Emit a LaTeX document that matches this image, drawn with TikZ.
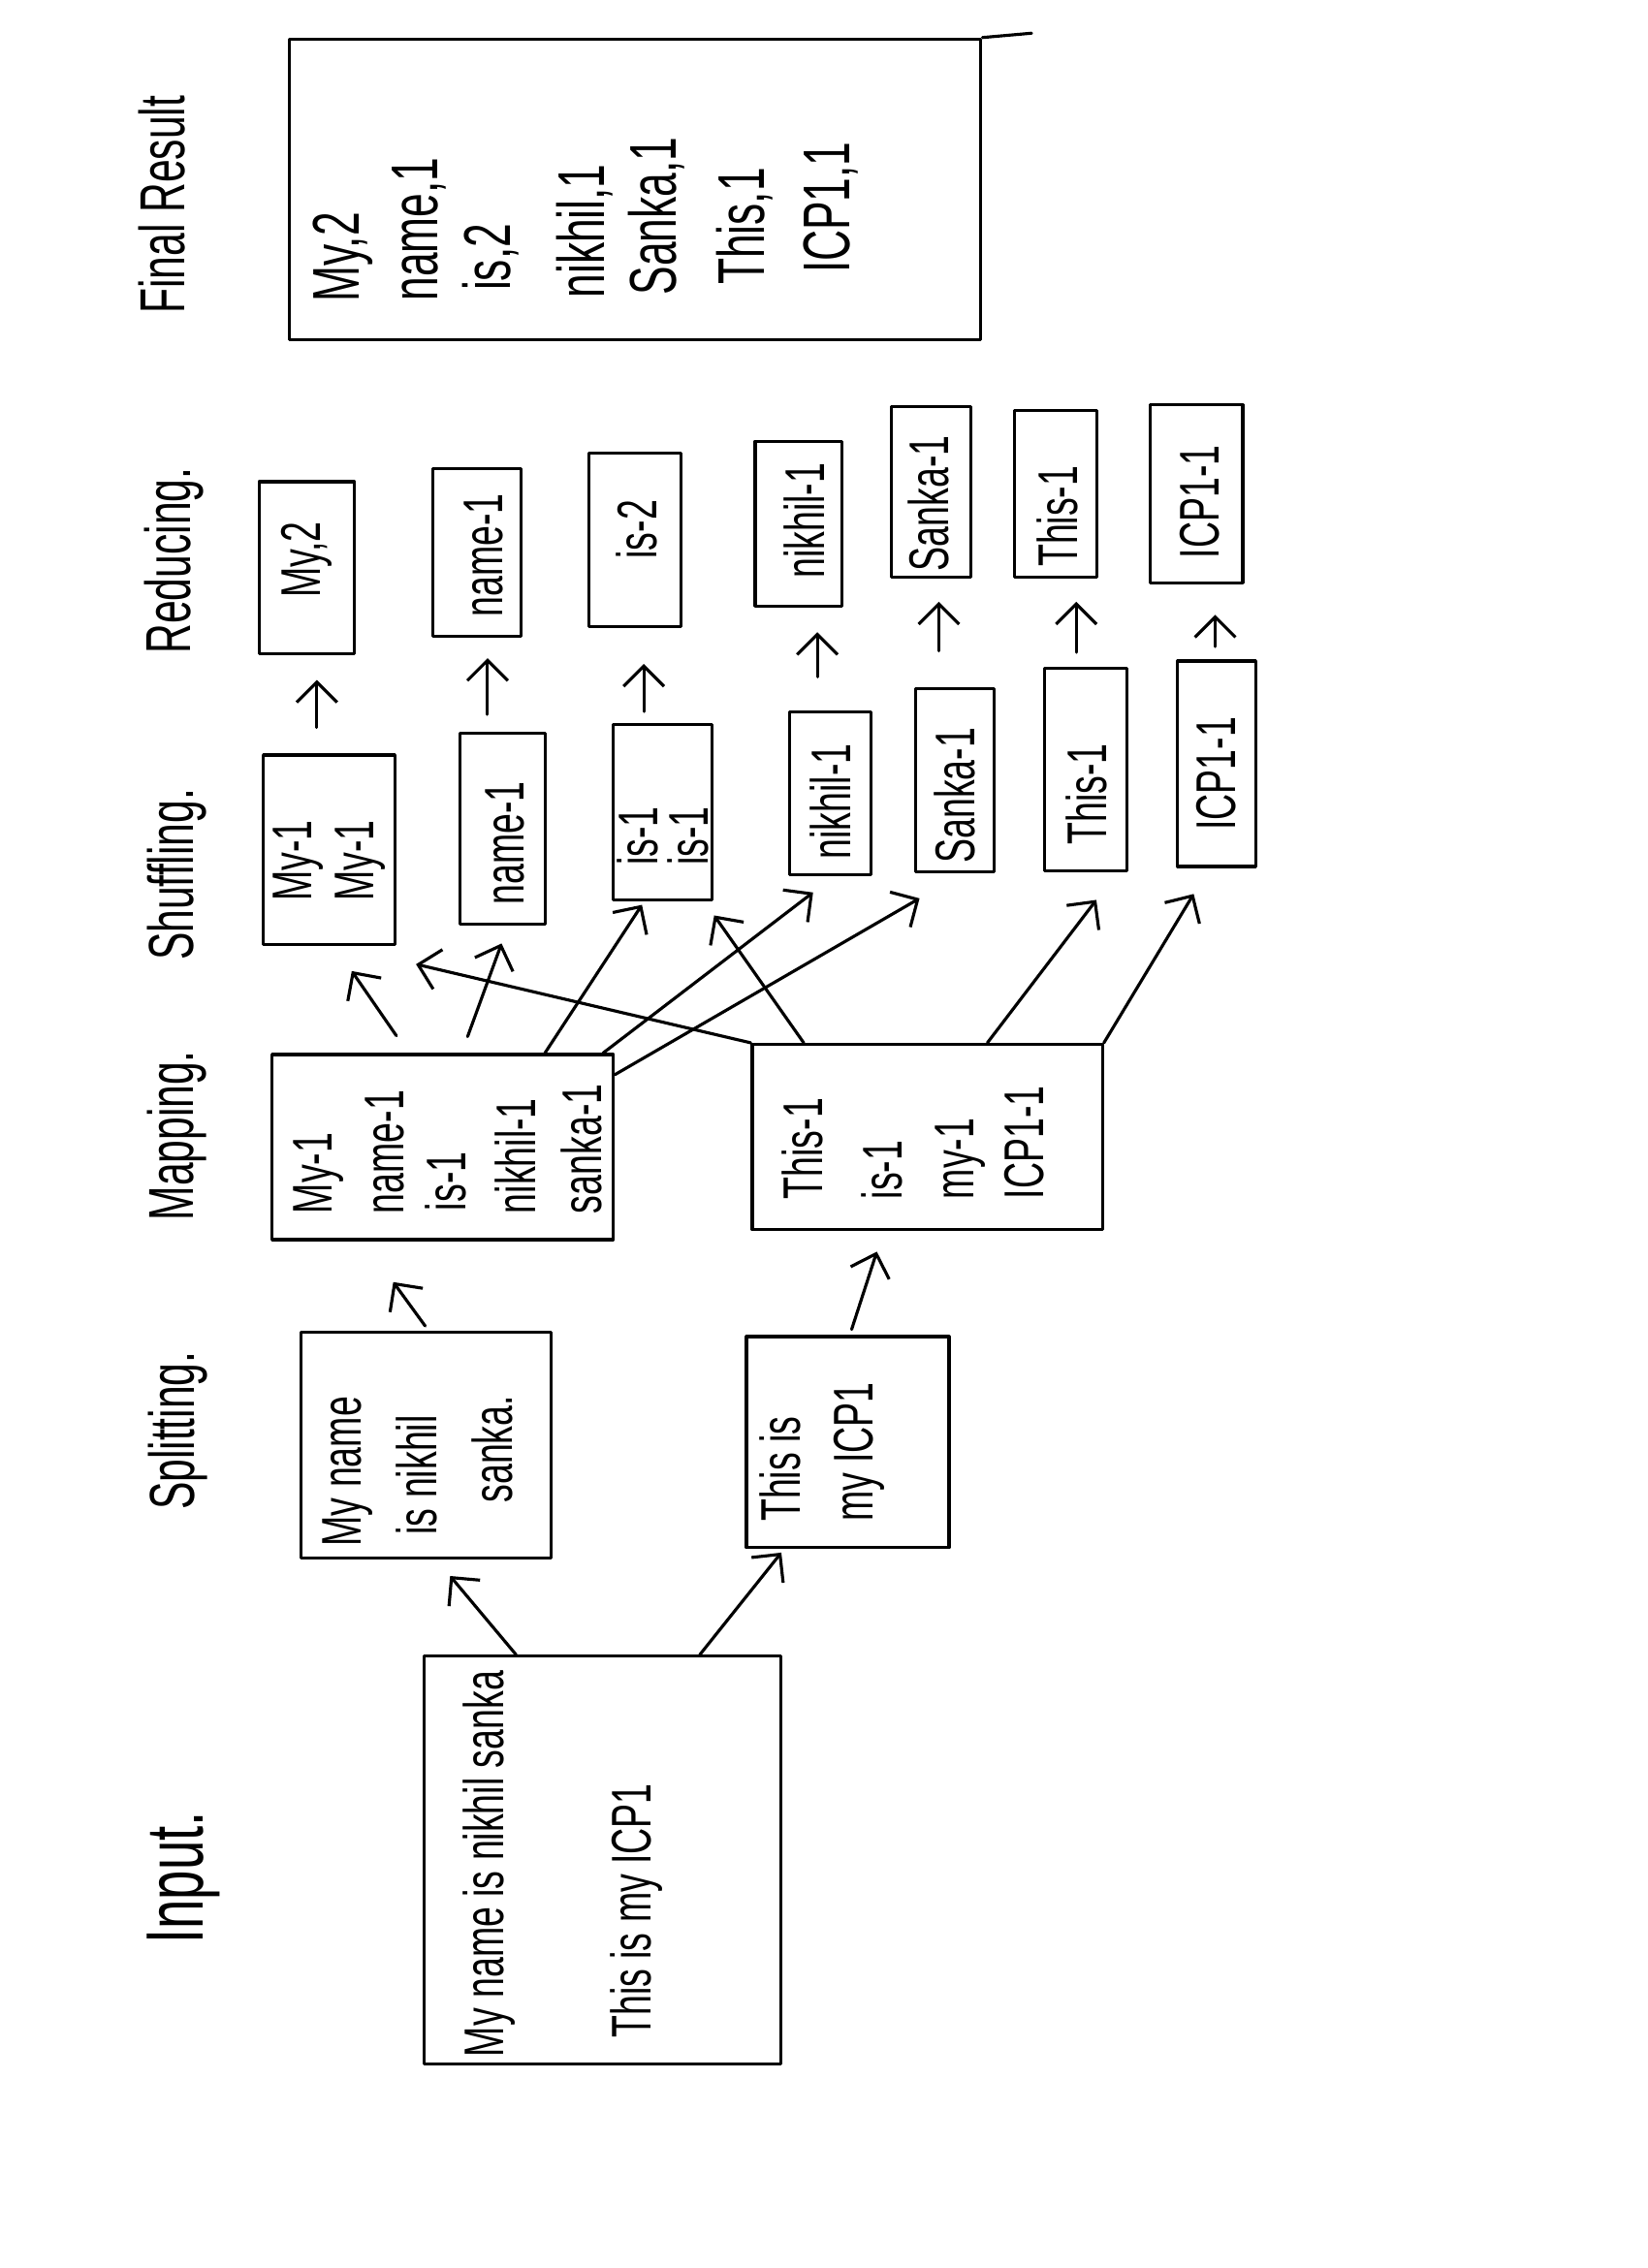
\documentclass[tikz,border=0pt]{standalone}
\usepackage{fontspec}
\setmainfont{Liberation Sans}[FakeStretch=0.65]
\usetikzlibrary{arrows.meta,calc}
\begin{document}
\begin{tikzpicture}[x=0.1mm,y=-0.1mm,line width=0.6pt,line cap=round,line join=round,
  bx/.style={draw,rectangle,inner sep=0pt},
  tx/.style={rotate=90,inner sep=0pt,font=\fontsize{11}{13}\selectfont},
  txw/.style={tx,anchor=west},
  ftx/.style={txw,font=\fontsize{13}{15}\selectfont},
  lbl/.style={txw,font=\fontsize{12.5}{15}\selectfont},
  arr/.style={-{Straight Barb[length=1.4mm,width=2.8mm]}},
]
\useasboundingbox (0,0) rectangle (1139,1568);
\fill[white] (0,0) rectangle (1139,1568);

% stage labels
\node[lbl] (Lfr) at (112,218) {Final Result};
\node[lbl] (Lrd) at (120,453) {Reducing.};
\node[lbl] (Lsh) at (122,665) {Shuffling.};
\node[lbl] (Lmp) at (122,845) {Mapping.};
\node[lbl] (Lsp) at (123,1045) {Splitting.};
\node[lbl,font=\fontsize{16}{18}\selectfont] (Lin) at (127,1345) {Input.};

% final result
\node[bx,minimum width=47.8mm,minimum height=20.8mm] (f) at (439,131) {};
\draw (f.north east) -- ++(34,-3);
\node[ftx] (tf1) at (237,210) {My,2};
\node[ftx] (tf2) at (290,209) {name,1};
\node[ftx] (tf3) at (339,202) {is,2};
\node[ftx] (tf4) at (404,207) {nikhil,1};
\node[ftx] (tf5) at (454,205) {Sanka,1};
\node[ftx] (tf6) at (515,198) {This,1};
\node[ftx] (tf7) at (574,190) {ICP1,1};

% reducing
\node[bx,minimum width=6.6mm,minimum height=11.9mm] (r1) at (212,392.5) {};
\node[bx,minimum width=6.1mm,minimum height=11.6mm] (r2) at (329.5,382) {};
\node[bx,minimum width=6.4mm,minimum height=12.0mm] (r3) at (439,373) {};
\node[bx,minimum width=6.0mm,minimum height=11.4mm] (r4) at (552,362) {};
\node[bx,minimum width=5.5mm,minimum height=11.8mm] (r5) at (643.5,340) {};
\node[bx,minimum width=5.7mm,minimum height=11.5mm] (r6) at (729.5,341.5) {};
\node[bx,minimum width=6.4mm,minimum height=12.3mm] (r7) at (827,341.5) {};
\node[tx] (tr1) at (212,387) {My,2};
\node[tx] (tr2) at (334,384) {name-1};
\node[tx] (tr3) at (440,366) {is-2};
\node[tx] (tr4) at (556,360) {nikhil-1};
\node[tx] (tr5) at (642,348) {Sanka-1};
\node[tx] (tr6) at (731,357) {This-1};
\node[tx] (tr7) at (829,347) {ICP1-1};

% shuffling
\node[bx,minimum width=9.1mm,minimum height=13.1mm] (s1) at (227.5,587.5) {};
\node[bx,minimum width=5.9mm,minimum height=13.2mm] (s2) at (347.5,573) {};
\node[bx,minimum width=6.8mm,minimum height=12.1mm] (s3) at (458,561.5) {};
\node[bx,minimum width=5.6mm,minimum height=11.3mm] (s4) at (574,548.5) {};
\node[bx,minimum width=5.4mm,minimum height=12.7mm] (s5) at (660,539.5) {};
\node[bx,minimum width=5.7mm,minimum height=14.0mm] (s6) at (750.5,532) {};
\node[bx,minimum width=5.4mm,minimum height=14.2mm] (s7) at (841,528) {};
\node[tx] (ts1a) at (206,595) {My-1};
\node[tx] (ts1b) at (249,595) {My-1};
\node[tx] (ts2) at (349,583) {name-1};
\node[tx] (ts3a) at (441,578) {is-1};
\node[tx] (ts3b) at (476,578) {is-1};
\node[tx] (ts4) at (574,554) {nikhil-1};
\node[tx] (ts5) at (660,550) {Sanka-1};
\node[tx] (ts6) at (751,549) {This-1};
\node[tx] (ts7) at (841,535) {ICP1-1};

% mapping
\node[bx,minimum width=23.6mm,minimum height=12.8mm] (m1) at (306,793) {};
\node[bx,minimum width=24.2mm,minimum height=12.8mm] (m2) at (641,786) {};
\node[txw] (tm1a) at (220,840) {My-1};
\node[txw] (tm1b) at (266,840) {name-1};
\node[txw] (tm1c) at (308,838) {is-1};
\node[txw] (tm1d) at (356,840) {nikhil-1};
\node[txw] (tm1e) at (402,840) {sanka-1};
\node[txw] (tm2a) at (555,830) {This-1};
\node[txw] (tm2b) at (610,830) {is-1};
\node[txw] (tm2c) at (664,830) {my-1};
\node[txw] (tm2d) at (708,830) {ICP1-1};

% splitting
\node[bx,minimum width=17.3mm,minimum height=15.6mm] (p1) at (294.5,999) {};
\node[bx,minimum width=14.0mm,minimum height=14.6mm] (p2) at (586,997) {};
\node[txw] (tp1a) at (240,1070) {My name};
\node[txw] (tp1b) at (288,1062) {is nikhil};
\node[txw] (tp1c) at (340,1040) {sanka.};
\node[txw] (tp2a) at (539,1053) {This is};
\node[txw] (tp2b) at (594,1053) {my ICP1};

% input
\node[bx,minimum width=24.7mm,minimum height=28.2mm] (in) at (416.5,1286) {};
\node[txw] (ti1) at (338,1423) {My name is nikhil sanka};
\node[txw] (ti2) at (440,1410) {This is my ICP1};

% input -> splitting
\draw[arr,shorten >=1.5mm] ($(in.north west)!0.26!(in.north east)$) -- ($(p1.south west)!0.54!(p1.south east)$);
\draw[arr,shorten >=0.3mm] ($(in.north west)!0.77!(in.north east)$) -- ($(p2.south west)!0.19!(p2.south east)$);

% splitting -> mapping
\draw[arr,shorten <=0.4mm,shorten >=3.5mm] ($(p1.north west)!0.51!(p1.north east)$) -- ($(m1.south west)!0.27!(m1.south east)$);
\draw[arr,shorten <=0.4mm,shorten >=1.5mm] ($(p2.north west)!0.51!(p2.north east)$) -- ($(m2.south west)!0.376!(m2.south east)$);

% mapping -> shuffling
\draw[arr,shorten <=1.45mm,shorten >=2.1mm] ($(m1.north west)!0.40!(m1.north east)$) -- ($(s1.south west)!0.54!(s1.south east)$);
\draw[arr,shorten <=1.2mm,shorten >=1.3mm] ($(m1.north west)!0.555!(m1.north east)$) -- ($(s2.south west)!0.56!(s2.south east)$);
\draw[arr,shorten >=0.3mm] ($(m1.north west)!0.797!(m1.north east)$) -- ($(s3.south west)!0.32!(s3.south east)$);
\draw[arr,shorten >=1.8mm] ($(m1.north west)!0.966!(m1.north east)$) -- ($(s4.south west)!0.54!(s4.south east)$);
\draw[arr,shorten >=3.4mm] ($(m1.north east)+(0,15)$) -- ($(s5.south west)!0.59!(s5.south east)$);
\draw[arr,shorten >=5.5mm] (m2.north west) -- ($(s1.south west)!0.57!(s1.south east)$);
\draw[arr,shorten >=1.2mm] ($(m2.north west)!0.15!(m2.north east)$) -- ($(s3.south west)!0.91!(s3.south east)$);
\draw[arr,shorten >=2.4mm] ($(m2.north west)!0.67!(m2.north east)$) -- ($(s6.south west)!0.87!(s6.south east)$);
\draw[arr,shorten >=2.1mm] (m2.north east) -- ($(s7.south west)!0.41!(s7.south east)$);

% shuffling -> reducing
\foreach \i/\dx/\a/\b in {1/-0.85mm/1.8mm/1.7mm, 2/-1.05mm/1.2mm/1.4mm, 3/-1.3mm/0.8mm/2.5mm,
  4/-0.9mm/2.3mm/1.7mm, 5/-1.1mm/2.5mm/1.6mm, 6/-0.65mm/1.0mm/1.6mm, 7/-0.1mm/0.9mm/2.1mm}
  \draw[arr,shorten <=\a,shorten >=\b] let \p1=(s\i.north), \p2=(r\i.south) in (\x1+\dx,\y1) -- (\x1+\dx,\y2);
\end{tikzpicture}
\end{document}
